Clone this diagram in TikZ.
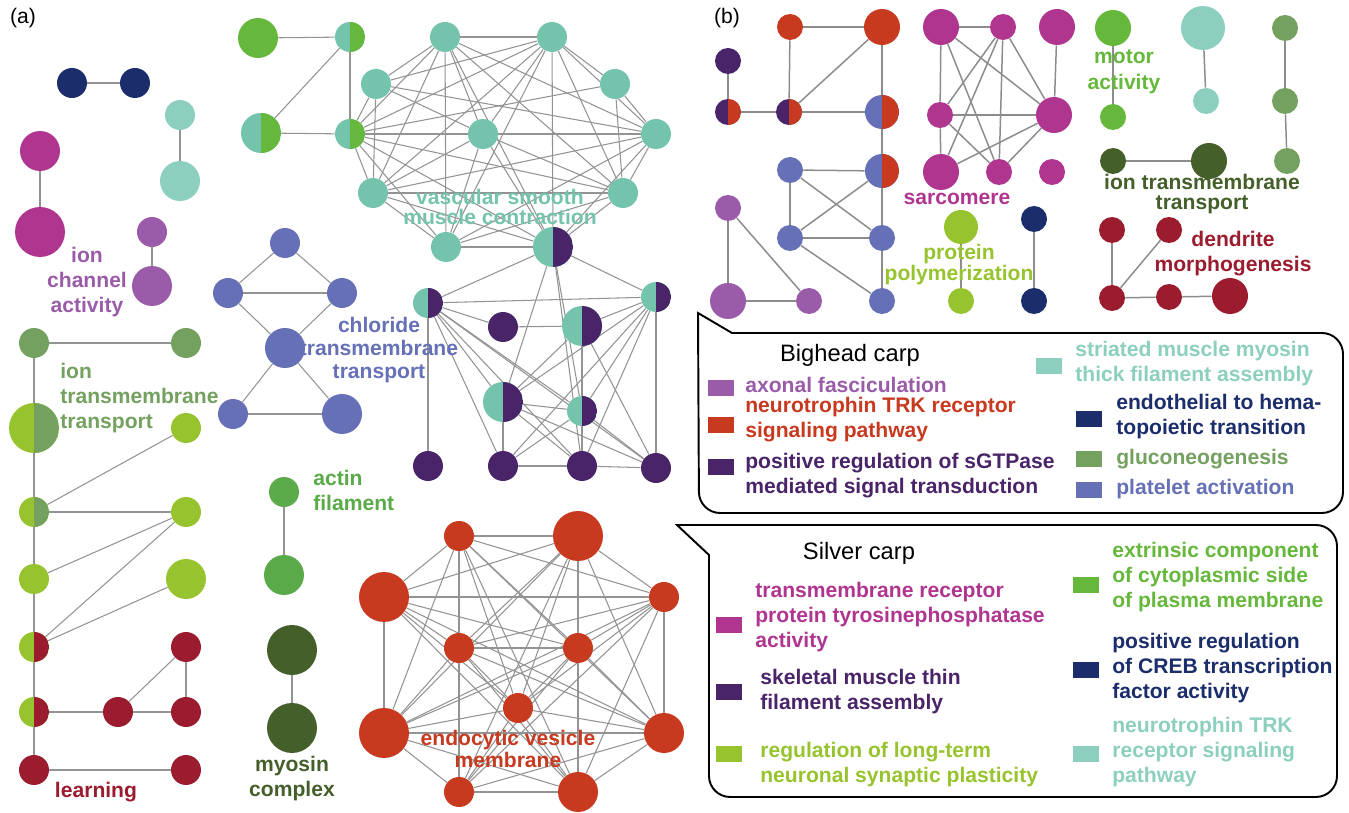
\documentclass[tikz,border=0pt]{standalone}
\usepackage{fontspec}
\setmainfont{Liberation Sans}
\usetikzlibrary{backgrounds}

\definecolor{cteal}{HTML}{74C4AD}
\definecolor{clteal}{HTML}{8DCFBF}
\definecolor{cnavy}{HTML}{1B2E6B}
\definecolor{cmag}{HTML}{B0358F}
\definecolor{caxon}{HTML}{9A5BA8}
\definecolor{cpurp}{HTML}{4A2468}
\definecolor{cblue}{HTML}{6570B6}
\definecolor{cgrey}{HTML}{74A060}
\definecolor{clime}{HTML}{97C42E}
\definecolor{cgreen}{HTML}{66B83C}
\definecolor{cactin}{HTML}{5AAA4A}
\definecolor{cdkgreen}{HTML}{455F2A}
\definecolor{cwine}{HTML}{9A1C2E}
\definecolor{corange}{HTML}{C83A1F}

\tikzset{
  dot/.style={circle, inner sep=0pt, minimum size=#1*0.04cm},
  halfdot/.style n args={3}{dot=#1, fill=#2,
    path picture={\fill[#3] (path picture bounding box.north) rectangle (path picture bounding box.south east);}},
  lnk/.style={draw=gray!85, line width=0.6pt},
  lnkb/.style={draw=gray!90, line width=0.85pt},
  lbl/.style={font=\bfseries\fontsize{12}{14.2}\selectfont, align=center, inner sep=0pt},
  tight/.style={font=\bfseries\fontsize{12}{11}\selectfont},
  tag/.style={font=\fontsize{12}{14}\selectfont, inner sep=0pt},
  swatch/.style={minimum width=0.52cm, minimum height=0.31cm, inner sep=0pt},
  keytxt/.style={font=\bfseries\fontsize{12}{14.2}\selectfont, align=left, anchor=west, inner sep=0pt},
  box/.style={draw=black, line width=1.1pt}
}

\begin{document}
\begin{tikzpicture}[x=0.02cm, y=-0.02cm]
  \useasboundingbox (0,0) rectangle (1349,813);

  \node[tag] (taga) at (23,18) {(a)};
  \node[tag] (tagb) at (727,18) {(b)};

  % (a) small pairs on the left
  \node[dot=15, fill=cnavy] (nv1) at (72,83) {};
  \node[dot=15, fill=cnavy] (nv2) at (135,83) {};
  \node[dot=15, fill=clteal] (lt1) at (180,115) {};
  \node[dot=20, fill=clteal] (lt2) at (180,181) {};
  \node[dot=20, fill=cmag] (mg1) at (40,151) {};
  \node[dot=25, fill=cmag] (mg2) at (40,232) {};
  \node[dot=15, fill=caxon] (ax1) at (152,232) {};
  \node[dot=20, fill=caxon] (ax2) at (152,286) {};
  \node[lbl, text=caxon] (lab-ion) at (87,282) {ion\\channel\\activity};

  % (a) green / teal triangle
  \node[dot=20, fill=cgreen] (gr1) at (258,38) {};
  \node[halfdot={15}{cteal}{cgreen}] (hm1) at (350,37) {};
  \node[halfdot={20}{cteal}{cgreen}] (hm2) at (261,133) {};

  % (a) vascular smooth muscle contraction
  \node[dot=15, fill=cteal] (vsm1) at (445,37) {};
  \node[dot=15, fill=cteal] (vsm2) at (552,37) {};
  \node[dot=15, fill=cteal] (vsm3) at (376,84) {};
  \node[dot=15, fill=cteal] (vsm4) at (615,84) {};
  \node[halfdot={15}{cteal}{cgreen}] (vsm5) at (350,134) {};
  \node[dot=15, fill=cteal] (vsm6) at (483,134) {};
  \node[dot=15, fill=cteal] (vsm7) at (656,134) {};
  \node[dot=15, fill=cteal] (vsm8) at (373,193) {};
  \node[dot=15, fill=cteal] (vsm9) at (623,193) {};
  \node[dot=15, fill=cteal] (vsm10) at (446,247) {};
  \node[halfdot={20}{cteal}{cpurp}] (vsm11) at (553,247) {};
  \node[lbl, tight, text=cteal] (lab-vsm) at (500,207) {vascular smooth\\muscle contraction};

  % (a) skeletal muscle thin filament assembly
  \node[halfdot={15}{cteal}{cpurp}] (sk1) at (428,303) {};
  \node[halfdot={15}{cteal}{cpurp}] (sk2) at (656,297) {};
  \node[dot=15, fill=cpurp] (sk3) at (503,327) {};
  \node[halfdot={20}{cteal}{cpurp}] (sk4) at (582,326) {};
  \node[halfdot={20}{cteal}{cpurp}] (sk5) at (503,402) {};
  \node[halfdot={15}{cteal}{cpurp}] (sk6) at (582,411) {};
  \node[dot=15, fill=cpurp] (sk7) at (428,466) {};
  \node[dot=15, fill=cpurp] (sk8) at (503,466) {};
  \node[dot=15, fill=cpurp] (sk9) at (582,466) {};
  \node[dot=15, fill=cpurp] (sk10) at (656,468) {};

  % (a) chloride transmembrane transport
  \node[dot=15, fill=cblue] (cl1) at (285,243) {};
  \node[dot=15, fill=cblue] (cl2) at (228,293) {};
  \node[dot=15, fill=cblue] (cl3) at (342,293) {};
  \node[dot=20, fill=cblue] (cl4) at (285,348) {};
  \node[dot=15, fill=cblue] (cl5) at (233,414) {};
  \node[dot=20, fill=cblue] (cl6) at (342,414) {};
  \node[lbl, text=cblue, font=\bfseries\fontsize{12}{13}\selectfont] (lab-cl) at (379,350) {chloride\\transmembrane\\transport};

  % (a) ion transmembrane transport / learning column
  \node[dot=15, fill=cgrey] (it1) at (34,343) {};
  \node[dot=15, fill=cgrey] (it2) at (186,343) {};
  \node[halfdot={25}{clime}{cgrey}] (it3) at (34,428) {};
  \node[dot=15, fill=clime] (lg1) at (186,428) {};
  \node[halfdot={15}{clime}{cgrey}] (it4) at (34,512) {};
  \node[dot=15, fill=clime] (lg2) at (186,512) {};
  \node[dot=15, fill=clime] (lg3) at (34,579) {};
  \node[dot=20, fill=clime] (lg4) at (186,579) {};
  \node[halfdot={15}{clime}{cwine}] (ln1) at (34,647) {};
  \node[dot=15, fill=cwine] (ln2) at (186,647) {};
  \node[halfdot={15}{clime}{cwine}] (ln3) at (34,712) {};
  \node[dot=15, fill=cwine] (ln4) at (118,712) {};
  \node[dot=15, fill=cwine] (ln5) at (186,712) {};
  \node[dot=15, fill=cwine] (ln6) at (34,770) {};
  \node[dot=15, fill=cwine] (ln7) at (186,770) {};
  \node[lbl, keytxt, text=cgrey] (lab-it) at (60,398) {ion\\transmembrane\\transport};
  \node[lbl, text=cwine] (lab-learn) at (96,792) {learning};

  % (a) actin filament, myosin complex
  \node[dot=15, fill=cactin] (ac1) at (284,492) {};
  \node[dot=20, fill=cactin] (ac2) at (284,575) {};
  \node[lbl, keytxt, text=cactin] (lab-ac) at (313,490) {actin\\filament};
  \node[dot=25, fill=cdkgreen] (my1) at (292,650) {};
  \node[dot=25, fill=cdkgreen] (my2) at (292,728) {};
  \node[lbl, text=cdkgreen] (lab-my) at (292,779) {myosin\\complex};

  % (a) endocytic vesicle membrane
  \node[dot=15, fill=corange] (ev1) at (459,536) {};
  \node[dot=25, fill=corange] (ev2) at (578,536) {};
  \node[dot=25, fill=corange] (ev3) at (384,597) {};
  \node[dot=15, fill=corange] (ev4) at (664,597) {};
  \node[dot=15, fill=corange] (ev5) at (459,648) {};
  \node[dot=15, fill=corange] (ev6) at (578,648) {};
  \node[dot=15, fill=corange] (ev7) at (518,708) {};
  \node[dot=25, fill=corange] (ev8) at (384,733) {};
  \node[dot=20, fill=corange] (ev9) at (664,733) {};
  \node[dot=15, fill=corange] (ev10) at (459,792) {};
  \node[dot=20, fill=corange] (ev11) at (578,792) {};
  \node[lbl, tight, text=corange] (lab-ev) at (508,749) {endocytic vesicle\\membrane};

  % (b) neurotrophin / platelet block
  \node[dot=13, fill=corange] (nt1) at (790,27) {};
  \node[dot=18, fill=corange] (nt2) at (882,27) {};
  \node[dot=13, fill=cpurp] (pr1) at (728,61) {};
  \node[halfdot={13}{cpurp}{corange}] (pr2) at (728,112) {};
  \node[halfdot={13}{cpurp}{corange}] (pr3) at (789,112) {};
  \node[halfdot={17}{cblue}{corange}] (pl1) at (882,112) {};
  \node[halfdot={17}{cblue}{corange}] (pl2) at (882,171) {};
  \node[dot=13, fill=cblue] (pl3) at (790,170) {};
  \node[dot=13, fill=cblue] (pl4) at (790,238) {};
  \node[dot=13, fill=cblue] (pl5) at (882,238) {};
  \node[dot=13, fill=cblue] (pl6) at (882,301) {};
  \node[dot=13, fill=caxon] (af1) at (728,208) {};
  \node[dot=18, fill=caxon] (af2) at (728,301) {};
  \node[dot=13, fill=caxon] (af3) at (809,301) {};

  % (b) sarcomere
  \node[dot=18, fill=cmag] (sc1) at (941,27) {};
  \node[dot=13, fill=cmag] (sc2) at (1003,27) {};
  \node[dot=18, fill=cmag] (sc3) at (1057,27) {};
  \node[dot=13, fill=cmag] (sc4) at (940,115) {};
  \node[dot=18, fill=cmag] (sc5) at (1054,115) {};
  \node[dot=18, fill=cmag] (sc6) at (941,172) {};
  \node[dot=13, fill=cmag] (sc7) at (999,172) {};
  \node[dot=13, fill=cmag] (sc8) at (1052,172) {};
  \node[lbl, text=cmag] (lab-sc) at (957,199) {sarcomere};

  % (b) small groups
  \node[dot=17, fill=clime] (pp1) at (961,227) {};
  \node[dot=13, fill=clime] (pp2) at (961,301) {};
  \node[lbl, text=clime, font=\bfseries\fontsize{12}{12}\selectfont] (lab-pp) at (959,265) {protein\\polymerization};
  \node[dot=13, fill=cnavy] (eh1) at (1034,219) {};
  \node[dot=13, fill=cnavy] (eh2) at (1034,301) {};
  \node[dot=18, fill=cgreen] (mo1) at (1113,28) {};
  \node[dot=13, fill=cgreen] (mo2) at (1113,117) {};
  \node[lbl, text=cgreen, font=\bfseries\fontsize{12}{15}\selectfont] (lab-mo) at (1124,72) {motor\\activity};
  \node[dot=22, fill=clteal] (sm1) at (1203,28) {};
  \node[dot=13, fill=clteal] (sm2) at (1206,101) {};
  \node[dot=13, fill=cgrey] (gn1) at (1285,28) {};
  \node[dot=13, fill=cgrey] (gn2) at (1285,101) {};
  \node[dot=13, fill=cgrey] (gn3) at (1287,161) {};
  \node[dot=13, fill=cdkgreen] (tm1) at (1113,161) {};
  \node[dot=18, fill=cdkgreen] (tm2) at (1209,161) {};
  \node[lbl, tight, text=cdkgreen] (lab-tm) at (1202,194) {ion transmembrane\\transport};
  \node[dot=13, fill=cwine] (dm1) at (1112,230) {};
  \node[dot=13, fill=cwine] (dm2) at (1169,230) {};
  \node[dot=13, fill=cwine] (dm3) at (1112,298) {};
  \node[dot=13, fill=cwine] (dm4) at (1169,297) {};
  \node[dot=18, fill=cwine] (dm5) at (1230,296) {};
  \node[lbl, text=cwine] (lab-dm) at (1233,254) {dendrite\\morphogenesis};

  % connectors, behind the dots
  \begin{pgfonlayer}{background}
    \foreach \a/\b in {nv1/nv2, lt1/lt2, mg1/mg2, ax1/ax2,
      gr1/hm1, hm1/hm2, hm1/vsm5, hm2/vsm5,
      cl1/cl2, cl1/cl3, cl2/cl3, cl2/cl4, cl3/cl4, cl4/cl5, cl4/cl6, cl5/cl6,
      it1/it2, it1/it3, it3/it4, it4/lg3, lg3/ln1, ln1/ln3, ln3/ln6,
      it4/lg1, it4/lg2, lg3/lg2, ln1/lg2, ln1/lg4,
      ln3/ln4, ln4/ln5, ln4/ln2, ln2/ln5, ln6/ln7,
      ac1/ac2, my1/my2}
      \draw[lnk] (\a) -- (\b);
    % dense teal cluster
    \foreach \a/\b in {1/2,1/3,1/5,1/6,1/7,1/8,1/9,1/10,1/11,
      2/3,2/4,2/5,2/6,2/7,2/8,2/9,2/10,2/11,
      3/5,3/6,3/7,3/8,4/5,4/7,4/9,
      5/6,5/7,5/8,5/9,5/10,5/11,6/7,6/8,6/9,6/10,6/11,
      7/8,7/9,7/10,7/11,8/9,8/10,8/11,9/10,9/11,10/11}
      \draw[lnk] (vsm\a) -- (vsm\b);
    % purple cluster
    \foreach \a/\b in {vsm11/sk1, vsm11/sk2, vsm11/sk5, vsm11/sk6, vsm11/sk9,
      sk1/sk2, sk1/sk3, sk1/sk7, sk1/sk5, sk1/sk6, sk1/sk8, sk1/sk9, sk1/sk10,
      sk2/sk4, sk2/sk5, sk2/sk6, sk2/sk8, sk2/sk9, sk2/sk10,
      sk3/sk4, sk4/sk5, sk4/sk6, sk4/sk9, sk4/sk10,
      sk5/sk6, sk5/sk8, sk5/sk9, sk5/sk10, sk6/sk8, sk6/sk9, sk6/sk10,
      sk8/sk9, sk9/sk10}
      \draw[lnk] (\a) -- (\b);
    % red cluster, almost complete
    \foreach \i in {1,...,10} {
      \pgfmathtruncatemacro\nxt{\i+1}
      \foreach \j in {\nxt,...,11} {
        \ifnum\i\j=110 \else \ifnum\i\j=310 \else
          \draw[lnk] (ev\i) -- (ev\j);
        \fi\fi
      }
    }
    % panel (b)
    \foreach \a/\b in {nt1/nt2, nt1/pr3, nt2/pr3, nt2/pl1, pr1/pr2, pr2/pr3, pr3/pl1,
      pl1/pl2, pl2/pl5, pl5/pl6, pl2/pl3, pl2/pl4, pl3/pl4, pl3/pl5, pl4/pl5, pl4/pl6,
      af1/af2, af1/af3, af2/af3,
      sc1/sc2, sc1/sc4, sc1/sc7, sc1/sc5, sc2/sc4, sc2/sc6, sc2/sc7, sc2/sc5,
      sc3/sc5, sc4/sc5, sc4/sc6, sc4/sc7, sc6/sc5, sc7/sc5,
      pp1/pp2, eh1/eh2, mo1/mo2, sm1/sm2, gn1/gn2, gn2/gn3, tm1/tm2,
      dm1/dm3, dm2/dm3, dm3/dm4, dm4/dm5}
      \draw[lnkb] (\a) -- (\b);
  \end{pgfonlayer}

  % Bighead carp legend
  \draw[box] (698,313) -- (732,333) [rounded corners=12pt] -- (1343,333) -- (1343,513) -- (699,513) [sharp corners] -- cycle;
  \node[tag, font=\fontsize{13.5}{15}\selectfont] (bh) at (850,355) {Bighead carp};
  \node[swatch, fill=caxon] (bk1) at (721,388) {};
  \node[keytxt, text=caxon] (bt1) at (745,385) {axonal fasciculation};
  \node[swatch, fill=corange] (bk2) at (721,425) {};
  \node[keytxt, text=corange] (bt2) at (745,420) {neurotrophin TRK receptor\\signaling pathway};
  \node[swatch, fill=cpurp] (bk3) at (721,467) {};
  \node[keytxt, text=cpurp] (bt3) at (745,476) {positive regulation of sGTPase\\mediated signal transduction};
  \node[swatch, fill=clteal] (bk4) at (1049,366) {};
  \node[keytxt, text=clteal] (bt4) at (1075,364) {striated muscle myosin\\thick filament assembly};
  \node[swatch, fill=cnavy] (bk5) at (1089,419) {};
  \node[keytxt, text=cnavy] (bt5) at (1116,417) {endothelial to hema-\\topoietic transition};
  \node[swatch, fill=cgrey] (bk6) at (1089,459) {};
  \node[keytxt, text=cgrey] (bt6) at (1116,459) {gluconeogenesis};
  \node[swatch, fill=cblue] (bk7) at (1089,490) {};
  \node[keytxt, text=cblue] (bt7) at (1116,489) {platelet activation};

  % Silver carp legend
  \draw[box] (677,525) -- (709,555) [rounded corners=12pt] -- (709,797) -- (1337,797) -- (1337,525) [sharp corners] -- cycle;
  \node[tag, font=\fontsize{13.5}{15}\selectfont] (sv) at (859,553) {Silver carp};
  \node[swatch, fill=cmag] (sk-1) at (729,625) {};
  \node[keytxt, text=cmag] (st1) at (755,617) {transmembrane receptor\\protein tyrosinephosphatase\\activity};
  \node[swatch, fill=cpurp] (sk-2) at (729,692) {};
  \node[keytxt, text=cpurp] (st2) at (760,692) {skeletal muscle thin\\filament assembly};
  \node[swatch, fill=clime] (sk-3) at (729,754) {};
  \node[keytxt, text=clime] (st3) at (760,765) {regulation of long-term\\neuronal synaptic plasticity};
  \node[swatch, fill=cgreen] (sk-4) at (1086,585) {};
  \node[keytxt, text=cgreen] (st4) at (1112,577) {extrinsic component\\of cytoplasmic side\\of plasma membrane};
  \node[swatch, fill=cnavy] (sk-5) at (1086,670) {};
  \node[keytxt, text=cnavy] (st5) at (1112,668) {positive regulation\\of CREB transcription\\factor activity};
  \node[swatch, fill=clteal] (sk-6) at (1086,754) {};
  \node[keytxt, text=clteal] (st6) at (1112,752) {neurotrophin TRK\\receptor signaling\\pathway};
\end{tikzpicture}
\end{document}
